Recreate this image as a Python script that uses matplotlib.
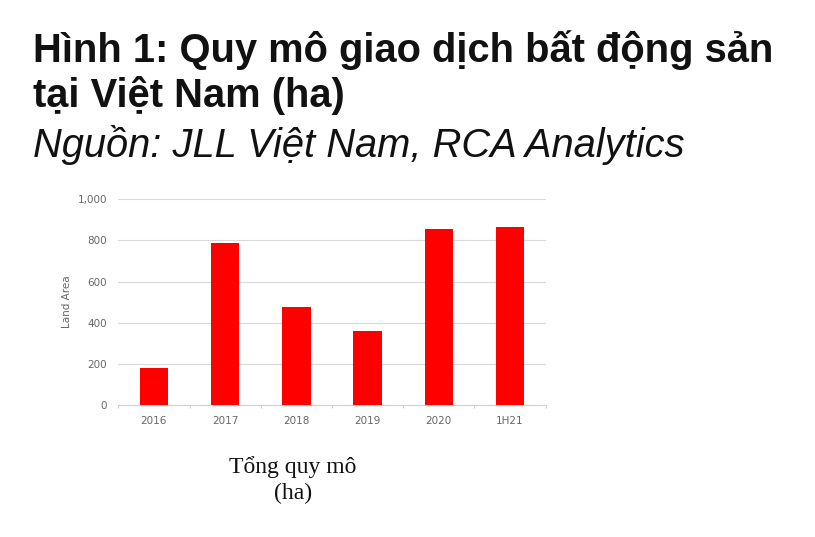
import matplotlib
matplotlib.use("Agg")
import matplotlib.pyplot as plt
import numpy as np

categories = ["2016", "2017", "2018", "2019", "2020", "1H21"]
values = [182, 789, 478, 361, 857, 867]
yticks = [0, 200, 400, 600, 800, 1000]
ytick_labels = ["0", "200", "400", "600", "800", "1,000"]

title_line1 = "Hình 1: Quy mô giao dịch bất động sản"
title_line2 = "tại Việt Nam (ha)"
source = "Nguồn: JLL Việt Nam, RCA Analytics"
bottom_line1 = "Tổng quy mô"
bottom_line2 = "(ha)"

W, H = 815, 537
fig = plt.figure(figsize=(W / 100, H / 100), dpi=100)
fig.patch.set_facecolor("white")

ax = fig.add_axes([118.3 / W, 1 - 405 / H, (545.7 - 118.3) / W, (405 - 199.3) / H])
x = np.arange(len(categories))
ax.bar(x, values, width=0.4, color="#ff0000", zorder=3)
ax.set_xlim(-0.5, len(categories) - 0.5)
ax.set_ylim(0, 1000)
ax.set_yticks(yticks)
ax.set_yticklabels(ytick_labels)
ax.set_xticks(x)
ax.set_xticklabels(categories)
ax.set_xticks(np.arange(-0.5, len(categories), 1.0), minor=True)
ax.tick_params(axis="x", which="major", length=0, pad=8, labelsize=7.5, labelcolor="#666666")
ax.tick_params(axis="x", which="minor", length=2.5, color="#d0d0d0", width=0.8)
ax.tick_params(axis="y", length=0, pad=8, labelsize=7.5, labelcolor="#666666")
ax.grid(axis="y", color="#d9d9d9", linewidth=0.8, zorder=0)
for s in ["top", "right", "left"]:
    ax.spines[s].set_visible(False)
ax.spines["bottom"].set_color("#d0d0d0")
ax.spines["bottom"].set_linewidth(0.8)
ax.set_ylabel("Land Area", fontsize=7.5, color="#666666")
ax.yaxis.set_label_coords(-0.108, 0.5)

fs_title = 28.7
fig.text(33 / W, 1 - 62 / H, title_line1, fontsize=fs_title, fontweight="bold",
         family="Liberation Sans", color="#111111", ha="left", va="baseline")
fig.text(33 / W, 1 - 107 / H, title_line2, fontsize=fs_title, fontweight="bold",
         family="Liberation Sans", color="#111111", ha="left", va="baseline")
fig.text(33 / W, 1 - 157 / H, source, fontsize=fs_title, style="italic",
         family="Liberation Sans", color="#111111", ha="left", va="baseline")

fig.text(293 / W, 1 - 473 / H, bottom_line1, fontsize=17, family="Liberation Serif",
         color="#111111", ha="center", va="baseline")
fig.text(293 / W, 1 - 499 / H, bottom_line2, fontsize=17, family="Liberation Serif",
         color="#111111", ha="center", va="baseline")

fig.savefig("out.png", dpi=100)
